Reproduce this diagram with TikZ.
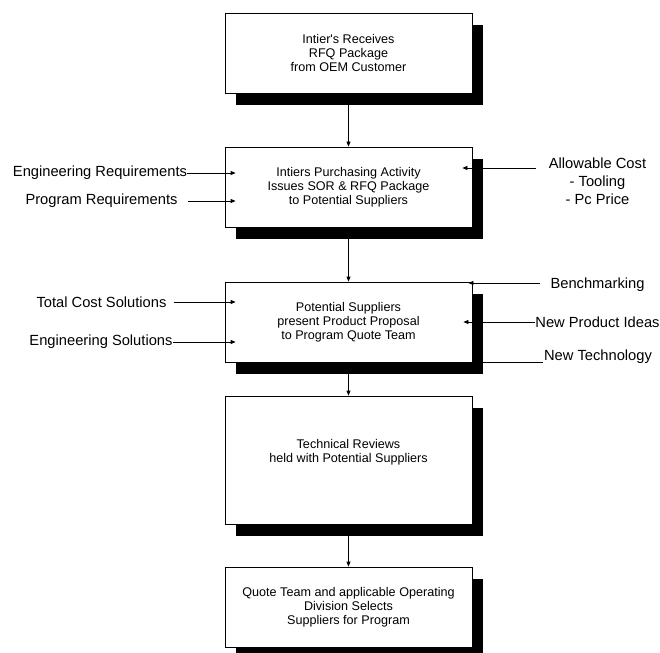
\documentclass[tikz,border=0pt]{standalone}
\usepackage{fontspec}
\setmainfont{Liberation Sans}
\usetikzlibrary{arrows.meta,calc,shadows}

\begin{document}
\begin{tikzpicture}[x=1pt,y=-1pt,
    stage/.style={draw,fill=white,line width=.8pt,minimum width=247pt,minimum height=80pt,inner sep=0pt,align=center,
      font=\fontsize{12.6}{14}\selectfont,
      drop shadow={shadow xshift=11pt,shadow yshift=-12pt,fill=black,opacity=1}},
    side/.style={inner sep=0pt,align=center,font=\fontsize{14.7}{18}\selectfont},
    feed/.style={line width=.8pt,-{Triangle[length=5pt,width=4pt]}}]
        \useasboundingbox (0,0) rectangle (660,652);
        \node[stage] (rfq) at (348.5,53) {Intier\textquotesingle s Receives\\RFQ Package\\from OEM Customer};
        \node[stage] (purch) at (348.5,187) {Intiers Purchasing Activity\\Issues SOR \& RFQ Package\\to Potential Suppliers};
        \node[stage] (prop) at (348.5,322) {Potential Suppliers\\present Product Proposal\\to Program Quote Team};
        \node[stage,minimum height=128pt] (review) at (348.5,460) {};
        \node[inner sep=0pt,align=center,font=\fontsize{12.6}{14}\selectfont] (reviewtxt) at (348.5,452) {Technical Reviews\\held with Potential Suppliers};
        \node[stage] (select) at (348.5,607) {Quote Team and applicable Operating\\Division Selects\\Suppliers for Program};
        \node[side] (engreq) at (100,173) {Engineering Requirements};
        \node[side] (progreq) at (101.5,201) {Program Requirements};
        \node[side] (totcost) at (101.5,302) {Total Cost Solutions};
        \node[side] (engsol) at (101,342) {Engineering Solutions};
        \node[side] (allow) at (597.5,181) {Allowable Cost\\- Tooling\\- Pc Price};
        \node[side] (bench) at (597.5,285) {Benchmarking};
        \node[side] (newprod) at (597.5,322) {New Product Ideas};
        \node[side] (newtech) at (598,357) {New Technology};
        \draw[feed] (rfq) -- (purch);
        \draw[feed] (purch) -- (prop);
        \draw[feed] (prop) -- (review);
        \draw[feed] (review) -- (select);
        \draw[feed] (engreq.east) -- ($(engreq.east -| purch.west)+(11,0)$);
        \draw[feed] ([xshift=10pt]progreq.east) -- ($(progreq.east -| purch.west)+(11,0)$);
        \draw[feed] ([xshift=7pt]totcost.east) -- ($(totcost.east -| prop.west)+(11,0)$);
        \draw[feed] (engsol.east) -- ($(engsol.east -| prop.west)+(11,0)$);
        \draw[feed] ($(allow.west)+(-13,-13)$) -- ($(allow.west -| purch.east)+(-10,-13)$);
        \draw[feed] ($(bench.west)+(-10,-2)$) -- ($(bench.west -| prop.east)+(-4,-2)$);
        \draw[feed] (newprod.west) -- ($(newprod.west -| prop.east)+(-9,0)$);
        \draw[line width=.8pt] ($(newtech.west)+(-1,5)$) -- ($(newtech.west -| prop.east)+(11,5)$);
      \end{tikzpicture}
\end{document}
